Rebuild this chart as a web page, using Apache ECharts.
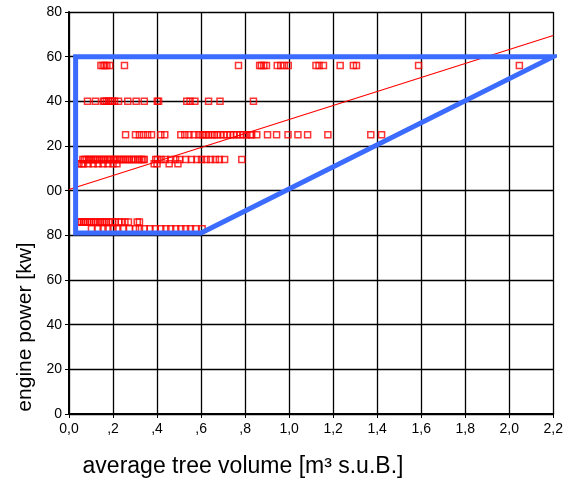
<!DOCTYPE html>
<html><head><meta charset="utf-8">
<script src="https://cdn.jsdelivr.net/npm/echarts@6/dist/echarts.min.js"></script>
<style>html,body{margin:0;padding:0;background:#fff}#c{width:566px;height:484px}</style>
</head><body><div id="c"></div>
<script>
// Tick labels as printed in the reference (leading "1" of 100..180 is cut off there)
const yTickLabels = ['0','20','40','60','80','00','20','40','60','80'];
const xTickLabels = ['0,0',',2',',4',',6',',8','1,0','1,2','1,4','1,6','1,8','2,0','2,2'];

// Observations: engine power level [kW] and the tree volumes observed at that level
const x156 = [0.145,0.155,0.163,0.172,0.185,0.252,0.77,0.866,0.874,0.885,0.897,0.946,0.962,0.978,0.996,1.122,1.136,1.156,1.232,1.292,1.306,1.588,2.046];
const x140 = [0.084,0.12,0.156,0.162,0.171,0.18,0.19,0.197,0.207,0.225,0.267,0.305,0.342,0.401,0.407,0.535,0.55,0.572,0.634,0.686,0.838];
const x125 = [0.257,0.302,0.32,0.338,0.357,0.375,0.417,0.435,0.508,0.526,0.545,0.568,0.59,0.605,0.613,0.623,0.635,0.65,0.66,0.672,0.688,0.703,0.718,0.733,0.748,0.762,0.778,0.793,0.808,0.823,0.83,0.853,0.902,0.943,0.995,1.04,1.084,1.176,1.371,1.42];
const x114 = [0.063,0.07,0.078,0.088,0.095,0.104,0.112,0.121,0.128,0.139,0.147,0.156,0.163,0.174,0.182,0.19,0.201,0.209,0.218,0.229,0.236,0.247,0.255,0.266,0.273,0.284,0.292,0.301,0.312,0.32,0.329,0.336,0.342,0.394,0.402,0.418,0.437,0.462,0.484,0.503,0.53,0.556,0.581,0.602,0.623,0.643,0.665,0.683,0.707,0.785];
const x112 = [0.045,0.058,0.066,0.087,0.11,0.132,0.155,0.177,0.2,0.218,0.387,0.4,0.455,0.495];
const x86 = [0.04,0.048,0.057,0.066,0.074,0.083,0.093,0.101,0.112,0.12,0.131,0.142,0.151,0.162,0.17,0.182,0.197,0.21,0.226,0.238,0.254,0.27,0.31,0.32];
const x83 = [0.102,0.132,0.155,0.177,0.2,0.222,0.245,0.275,0.302,0.32,0.342,0.368,0.392,0.417,0.44,0.462,0.485,0.508,0.53,0.552,0.575,0.605];
const powerLevels = [156,140,125,114,112,86,83];
const volumeLists = [x156,x140,x125,x114,x112,x86,x83];

// Regression line and working-range envelope
const trendX = [0, 2.2];
const trendY = [100.5, 169.5];
const envX = [0.03, 2.2, 0.6, 0.03, 0.03];
const envY = [160, 160, 81, 81, 160];

const FONT = 'Liberation Sans, Arial, sans-serif';
const scatterData = [];
powerLevels.forEach((p, i) => volumeLists[i].forEach(v => scatterData.push([v, p])));

const chart = echarts.init(document.getElementById('c'), null, {renderer: 'canvas'});
chart.setOption({
  animation: false,
  backgroundColor: '#fff',
  grid: {left: 69, right: 9, top: 12, bottom: 70, containLabel: false},
  xAxis: {
    type: 'value', min: 0, max: 2.2, interval: 0.2,
    axisLine: {onZero: false, lineStyle: {color: '#000', width: 2}},
    axisTick: {show: true, length: 4, lineStyle: {color: '#000', width: 1}},
    axisLabel: {margin: 8, fontSize: 14, color: '#000', fontFamily: FONT,
      formatter: v => xTickLabels[Math.round(v / 0.2)] ?? ''},
    splitLine: {show: true, lineStyle: {color: '#000', width: 1.3}}
  },
  yAxis: {
    type: 'value', min: 0, max: 180, interval: 20,
    axisLine: {show: true, onZero: false, lineStyle: {color: '#000', width: 2}},
    axisTick: {show: true, length: 4, lineStyle: {color: '#000', width: 1}},
    axisLabel: {margin: 7, fontSize: 14, color: '#000', fontFamily: FONT,
      formatter: v => yTickLabels[Math.round(v / 20)] ?? ''},
    splitLine: {show: true, lineStyle: {color: '#000', width: 1.3}}
  },
  graphic: [
    {type: 'text', x: 243, y: 467, style: {text: 'average tree volume [m³ s.u.B.]', font: '23px ' + FONT, fill: '#000', textAlign: 'center', textVerticalAlign: 'middle'}},
    {type: 'text', x: 25, y: 327, rotation: Math.PI / 2, style: {text: 'engine power [kw]', font: '21px ' + FONT, fill: '#000', textAlign: 'center', textVerticalAlign: 'middle'}}
  ],
  series: [
    {type: 'scatter', data: scatterData, symbol: 'rect', symbolSize: 6, z: 3,
      itemStyle: {color: 'rgba(255,255,255,0)', borderColor: '#ff0000', borderWidth: 1.5}},
    {type: 'line', data: trendX.map((x, i) => [x, trendY[i]]), showSymbol: false, z: 4,
      lineStyle: {color: '#ff0000', width: 1.1}},
    {type: 'line', data: envX.map((x, i) => [x, envY[i]]), showSymbol: false, z: 5,
      lineStyle: {color: '#3b6bff', width: 5, join: 'miter', cap: 'square'}}
  ]
});
</script>
</body></html>
